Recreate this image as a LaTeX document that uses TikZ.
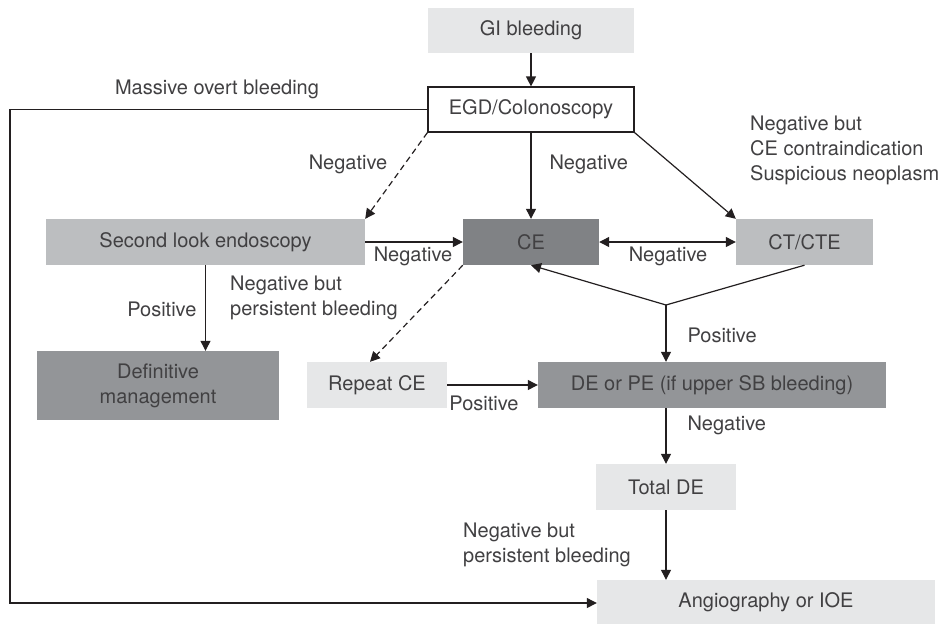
\documentclass[tikz,border=0pt]{standalone}
\usepackage{fontspec}
\setmainfont{TeX Gyre Heros}
\usetikzlibrary{arrows.meta}
\definecolor{boxlight}{HTML}{E6E7E8}
\definecolor{boxmid}{HTML}{BCBEC0}
\definecolor{boxdark}{HTML}{808285}
\definecolor{boxgrey}{HTML}{939598}
\definecolor{txt}{HTML}{414042}
\definecolor{ln}{HTML}{231F20}
\begin{document}
\begin{tikzpicture}[x=1pt,y=-1pt,font=\fontsize{20}{25}\selectfont,text=txt,
  >={Triangle[length=10pt,width=10pt]},
  box/.style={inner sep=0pt,align=center,minimum height=46pt},
  conn/.style={draw=ln,line width=1.2pt},
  dsh/.style={conn,dash pattern=on 6pt off 4pt}]
\useasboundingbox (0,0) rectangle (949,624);

\node[box,fill=boxlight,minimum width=206pt,minimum height=45pt] (GI) at (531,30.5) {GI bleeding};
\node[box,fill=white,draw=ln,line width=1.2pt,minimum width=206pt,minimum height=45pt] (EGD) at (531,109.5) {EGD/Colonoscopy};
\node[box,fill=boxmid,minimum width=319pt] (SLE) at (205.5,242) {Second look endoscopy};
\node[box,fill=boxdark,minimum width=136pt] (CE) at (531,242) {CE};
\node[box,fill=boxmid,minimum width=137pt] (CT) at (804.5,242) {CT/CTE};
\node[box,fill=boxgrey,minimum width=242pt,minimum height=69pt] (Def) at (158,385.5) {Definitive\\management};
\node[box,fill=boxlight,minimum width=140pt] (Rep) at (377,385) {Repeat CE};
\node[box,fill=boxgrey,minimum width=348pt] (DE) at (712,385) {DE or PE (if upper SB bleeding)};
\node[box,fill=boxlight,minimum width=140pt] (Tot) at (666,487) {Total DE};
\node[box,fill=boxlight,minimum width=338pt,minimum height=44pt] (Ang) at (766,602) {Angiography or IOE};

\coordinate (M1) at (10,109.5);
\coordinate (M2) at (10,603);
\coordinate (J) at (666,305);

\draw[conn,->] (GI.south) -- (EGD.north);
\draw[conn,->] (EGD.west) -- (M1) -- (M2) -- (M2 -| Ang.west);
\draw[dsh,->] (EGD.south west) -- (SLE.north east);
\draw[conn,->] (EGD.south) -- (CE.north);
\draw[conn,->] (EGD.south east) -- (CT.north west);
\draw[conn,->] (SLE.east) -- (CE.west);
\draw[conn,<->] (CE.east) -- (CT.west);
\draw[conn] (CT.south) -- (J);
\draw[conn,->] (J) -- (CE.south);
\draw[conn,->] (J) -- (J |- DE.north);
\draw[conn,->] (SLE.south) -- (SLE.south |- Def.north);
\draw[dsh,->] (CE.south west) -- ([xshift=-7pt]Rep.north);
\draw[conn,->] (Rep.east) -- (DE.west);
\draw[conn,->] (DE.south -| Tot) -- (Tot.north);
\draw[conn,->] (Tot.south) -- (Tot.south |- Ang.north);

\node (lMas) at (217,89) {Massive overt bleeding};
\node (lNeg1) at (348,164) {Negative};
\node[anchor=west] (lNeg2) at (546,164) {Negative};
\node[anchor=west,align=left,inner sep=0pt] (lCon) at (750,150) {Negative but\\CE contraindication\\Suspicious neoplasm};
\node (lNeg3) at (413,256) {Negative};
\node (lNeg4) at (668,256) {Negative};
\node[anchor=west] (lPos1) at (684,335) {Positive};
\node[anchor=east] (lPos2) at (200,309) {Positive};
\node[anchor=west,align=left,inner sep=0pt] (lPer1) at (230,298) {Negative but\\persistent bleeding};
\node (lPos3) at (484,403) {Positive};
\node[anchor=west] (lNeg5) at (684,425) {Negative};
\node[anchor=west,align=left,inner sep=0pt] (lPer2) at (463,545) {Negative but\\persistent bleeding};
\end{tikzpicture}
\end{document}
